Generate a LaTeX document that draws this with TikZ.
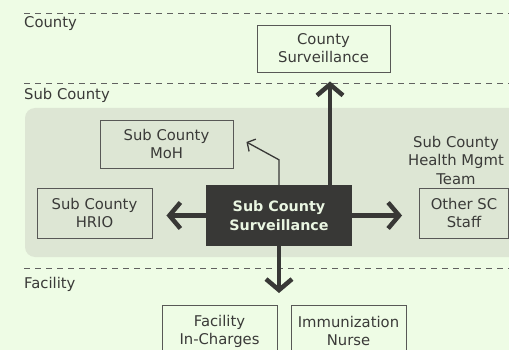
\documentclass[tikz,border=0pt]{standalone}
\usepackage{fontspec}
\setmainfont{DejaVu Sans}
\usetikzlibrary{arrows.meta,calc}
\definecolor{pagebg}{HTML}{EEFCE5}
\definecolor{panelbg}{HTML}{DDE6D4}
\definecolor{ink}{HTML}{3A3A38}
\definecolor{darkbox}{HTML}{383836}
\definecolor{lighttext}{HTML}{EAF6E2}
\tikzset{
  x=1pt, y=-1pt,
  tier/.style={draw=ink!80, line width=0.7pt, dash pattern=on 6pt off 5pt},
  tierlabel/.style={anchor=west, text=ink, font=\fontsize{14.8}{17}\selectfont, inner sep=0pt},
  role/.style={draw=ink!85, line width=0.9pt, fill=none, text=ink, align=center,
    font=\fontsize{14.8}{18}\selectfont, inner sep=0pt},
  hub/.style={fill=darkbox, text=lighttext, align=center,
    font=\bfseries\fontsize{14.3}{19}\selectfont, inner sep=0pt},
  bigarrow/.style={draw=darkbox, line width=4.5pt,
    -{Straight Barb[length=11pt,width=26pt,line cap=butt,line join=miter]}},
  thinarrow/.style={draw=darkbox, line width=1.3pt,
    -{Straight Barb[length=6pt,width=14pt]}},
}
\begin{document}
\begin{tikzpicture}
  \useasboundingbox (0,0) rectangle (509,350);
  \clip (0,0) rectangle (509,350);
  \fill[pagebg] (0,0) rectangle (509,350);

  % sub-county panel
  \fill[panelbg, rounded corners=10pt] (25,108) rectangle (540,257);

  % tier separators and labels
  \draw[tier] (24,13.5) -- (509,13.5);
  \draw[tier] (24,83.5) -- (509,83.5);
  \draw[tier] (24,268.5) -- (509,268.5);
  \node[tierlabel] (lblcounty) at (24,24) {County};
  \node[tierlabel] (lblsub) at (24,95.5) {Sub County};
  \node[tierlabel] (lblfac) at (24,284) {Facility};

  % role boxes
  \node[role, minimum width=133pt, minimum height=47pt] (county) at (323.5,48.5) {County\\Surveillance};
  \node[role, minimum width=133pt, minimum height=48pt] (moh) at (166.5,144) {Sub County\\MoH};
  \node[role, minimum width=115pt, minimum height=50pt] (hrio) at (94.5,213) {Sub County\\HRIO};
  \node[role, minimum width=89pt, minimum height=50pt] (other) at (464,213) {Other SC\\Staff};
  \node[text=ink, align=center, font=\fontsize{14.8}{18.5}\selectfont, inner sep=0pt]
    (smt) at (456,160) {Sub County\\Health Mgmt\\Team};
  \node[role, minimum width=115pt, minimum height=52pt] (incharge) at (219.5,331) {Facility\\In-Charges};
  \node[role, minimum width=115pt, minimum height=52pt] (nurse) at (348.5,331) {Immunization\\Nurse};

  % central hub
  \node[hub, minimum width=146pt, minimum height=61pt] (hub) at (279,215.5) {Sub County\\Surveillance};

  % connectors
  \coordinate (upx) at (330,0);
  \coordinate (downx) at (279,0);
  \coordinate (facrow) at (279,305);
  \draw[bigarrow] (hub.north -| upx) -- ($(county.south -| upx)+(0,9)$);
  \draw[bigarrow] (hub.west) -- ($(hrio.east |- hub.west)+(14,0)$);
  \draw[bigarrow] (hub.east) -- ($(other.west |- hub.east)+(-17,0)$);
  \draw[bigarrow] (hub.south -| downx) -- ($(facrow)+(0,-12)$);
  \draw[thinarrow] (hub.north -| downx) -- ++(0,-25) -- ($(moh.east)+(13,-2)$);
\end{tikzpicture}
\end{document}
